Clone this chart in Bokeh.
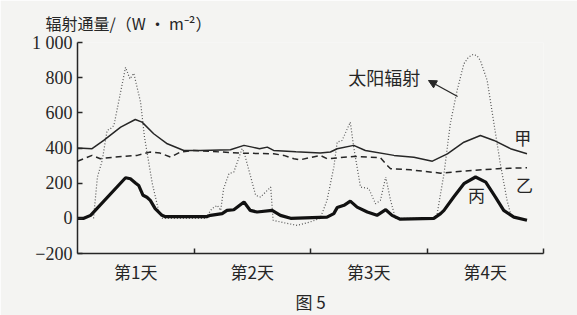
from bokeh.plotting import figure
from bokeh.models import Range1d, FixedTicker, Label, Arrow, NormalHead, Title
from bokeh.embed import file_html
from bokeh.resources import INLINE

# ---- data (hours since start, W/m2) ----
solar_h = [3.3, 4.1, 5.1, 6.1, 6.8, 7.5, 9.9, 10.8, 11.6, 13.0, 13.8, 15.4, 16.7, 17.5,
           26.6, 27.0, 27.7, 28.8, 29.5, 30.1, 31.2, 32.2, 33.9, 34.3, 36.7, 37.7, 39.8, 40.3,
           42.5, 45.3, 48.0, 50.0,
           51.4, 52.8, 53.5, 54.5, 56.2, 56.9, 57.6, 58.3, 60.0, 61.4, 62.4, 63.5, 64.5, 65.5,
           73.6, 74.1, 75.5, 76.8, 78.2, 79.6, 80.5, 81.5, 82.3, 83.0, 84.4, 85.8, 87.1, 88.5, 89.2, 89.8]
solar_v = [0, 235, 330, 500, 510, 528, 859, 793, 825, 660, 462, 199, 45, 0,
           0, 27, 55, 74, 45, 169, 254, 263, 396, 377, 131, 121, 178, -11,
           -25, -40, -20, 0,
           102, 291, 433, 443, 547, 405, 291, 178, 169, 83, 102, 235, 102, 0,
           0, 27, 254, 538, 727, 879, 915, 932, 925, 897, 784, 538, 311, 102, 27, 0]

jia_h = [0, 3.0, 5.4, 8.9, 11.9, 13.3, 15.7, 18.5, 21.9, 25.3, 31.5, 34.3, 36.0, 37.5, 39.1, 40.4,
         45.0, 50.0, 52.1, 53.5, 56.9, 59.3, 65.2, 69.3, 73.1, 74.8, 76.2, 79.6, 83.0, 85.8, 89.2, 92.6]
jia_v = [400, 396, 443, 519, 562, 547, 481, 424, 386, 386, 390, 415, 405, 396, 405, 386,
         378, 371, 377, 396, 415, 386, 358, 348, 325, 348, 367, 433, 471, 443, 396, 367]

yi_h = [0, 3.0, 4.7, 7.5, 12.3, 15.0, 17.0, 19.2, 21.2, 24.0, 33.6, 40.4, 42.5, 44.6, 45.9,
        50.0, 51.4, 56.9, 62.4, 63.8, 64.5, 68.6, 74.8, 79.6, 86.5, 92.6]
yi_v = [325, 358, 339, 348, 358, 377, 371, 348, 377, 386, 371, 367, 358, 339, 333,
        358, 339, 352, 345, 301, 282, 276, 257, 269, 282, 288]

bing_h = [0, 1.3, 2.7, 9.9, 10.9, 12.0, 12.6, 13.5, 14.3, 15.0, 16.0, 17.4, 18.0, 26.7, 27.4,
          29.8, 30.8, 32.2, 34.3, 35.6, 37.0, 40.1, 41.8, 43.9, 51.4, 52.8, 53.5, 54.9, 56.2,
          57.6, 59.7, 61.7, 63.5, 64.8, 66.5, 73.4, 74.8, 75.5, 77.5, 79.6, 82.0, 84.1, 86.1,
          87.8, 89.9, 92.6]
bing_v = [0, 0, 17, 231, 225, 200, 187, 131, 120, 102, 55, 17, 10, 10, 17,
          27, 45, 49, 93, 45, 36, 45, 17, 0, 7, 27, 61, 74, 98,
          64, 36, 17, 49, 17, -5, 0, 27, 45, 121, 197, 235, 206, 121,
          45, 7, -11]

day_ticks = [12, 36, 60, 84]
day_labels = ["第1天", "第2天", "第3天", "第4天"]
day_bounds = [24, 48, 72, 96]
y_ticks = [-200, 0, 200, 400, 600, 800, 1000]

BG = "#f4f4f2"
INK = "#262626"
CJK = "Noto Sans CJK SC"
SERIF = "Liberation Serif"

p = figure(width=577, height=315, output_backend="svg", toolbar_location=None,
           x_range=Range1d(0, 96), y_range=Range1d(-200, 1000),
           min_border_left=77, min_border_right=34, min_border_top=42, min_border_bottom=62)
p.background_fill_color = BG
p.border_fill_color = BG
p.outline_line_color = None
p.xgrid.visible = False
p.ygrid.visible = False

# lines
p.line(solar_h, solar_v, line_color="#555555", line_width=1.2, line_dash="1 2")
p.line(jia_h, jia_v, line_color=INK, line_width=1.5)
p.line(yi_h, yi_v, line_color=INK, line_width=1.5, line_dash="6 4")
p.line(bing_h, bing_v, line_color="#111111", line_width=3.2)

# y axis
ya = p.yaxis[0]
ya.ticker = FixedTicker(ticks=y_ticks)
ya.major_label_overrides = {1000: "1 000"}
ya.major_tick_in = 5
ya.major_tick_out = 0
ya.minor_tick_line_color = None
ya.axis_line_width = 1.5
ya.axis_line_color = INK
ya.major_tick_line_color = INK
ya.major_tick_line_width = 1.5
ya.major_label_text_font = SERIF
ya.major_label_text_font_size = "18px"
ya.major_label_text_color = INK
ya.major_label_standoff = 5

# x axis
xa = p.xaxis[0]
xa.ticker = FixedTicker(ticks=day_ticks, minor_ticks=day_bounds)
xa.major_label_overrides = {t: l for t, l in zip(day_ticks, day_labels)}
xa.major_tick_in = 0
xa.major_tick_out = 0
xa.minor_tick_in = 5
xa.minor_tick_out = 0
xa.minor_tick_line_color = INK
xa.minor_tick_line_width = 1.5
xa.axis_line_width = 1.5
xa.axis_line_color = INK
xa.major_label_text_font = CJK
xa.major_label_text_font_size = "17px"
xa.major_label_text_color = INK
xa.major_label_standoff = 5

# titles
p.add_layout(Title(text="辐射通量/（W · m⁻²）", align="left", offset=-32, standoff=15,
                   text_font=CJK, text_font_size="16px", text_font_style="normal",
                   text_color=INK), "above")
p.add_layout(Title(text="图 5", align="center", offset=-38, standoff=0,
                   text_font=CJK, text_font_size="17px", text_font_style="normal",
                   text_color=INK), "below")

# annotations
p.add_layout(Label(x=55.8, y=801, text="太阳辐射", text_font=CJK, text_font_size="18px",
                   text_color=INK, text_baseline="middle"))
p.add_layout(Arrow(x_start=78.3, y_start=693, x_end=72.3, y_end=784, line_color=INK,
                   line_width=1.3,
                   end=NormalHead(size=8, fill_color=INK, line_color=INK)))
p.add_layout(Label(x=91.7, y=460, text="甲", text_font=CJK, text_font_size="17px",
                   text_color=INK, text_baseline="middle", text_align="center"))
p.add_layout(Label(x=92.1, y=192, text="乙", text_font=CJK, text_font_size="17px",
                   text_color=INK, text_baseline="middle", text_align="center"))
p.add_layout(Label(x=82.2, y=138, text="丙", text_font=CJK, text_font_size="17px",
                   text_color=INK, text_baseline="middle", text_align="center"))

open("out.html", "w").write(file_html(p, INLINE))
